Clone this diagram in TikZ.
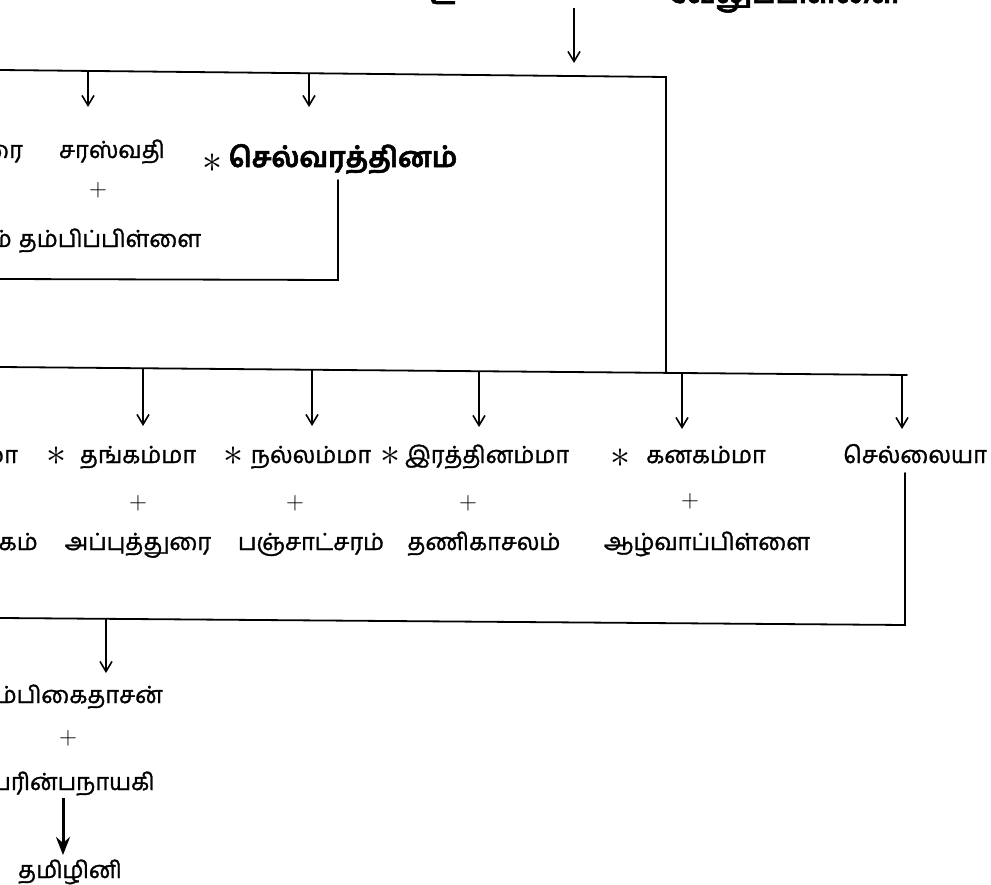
\documentclass[tikz,border=0pt]{standalone}
\usepackage{fontspec}
\usepackage{graphicx}
\newfontfamily\tamil[Script=Tamil,FakeBold=1.3]{Hind Madurai}
\newfontfamily\tamilbold[Script=Tamil,BoldFeatures={FakeBold=2}]{Hind Madurai}
\newcommand\bigast{\scalebox{4}{$\ast$}}
\usetikzlibrary{arrows.meta}
\begin{document}
\begin{tikzpicture}[x=1pt,y=-1pt,
  nm/.style={font=\tamil\fontsize{23.5}{24}\selectfont, inner sep=0pt, anchor=base},
  bnm/.style={font=\tamilbold\bfseries\fontsize{28}{28}\selectfont, inner sep=0pt, anchor=base},
  plus/.style={font=\fontsize{24}{24}\selectfont, inner sep=0pt, anchor=center},
  ast/.style={inner sep=0pt, anchor=center},
  ln/.style={line width=1.8pt, line cap=round},
  arr/.style={line width=1.6pt, -{Straight Barb[length=10pt,width=12pt,line width=1.6pt]}},
  bigarr/.style={line width=3pt, -{Stealth[length=18pt,width=14pt,inset=6pt]}}]
\useasboundingbox (0,0) rectangle (991,885);
\fill[white] (0,0) rectangle (991,885);
\clip (0,0) rectangle (991,885);

% cut-off heading fragments
\node[bnm] (hd1) at (443,4) {உ};
\node[bnm, anchor=base west] (hd2) at (668,3) {வேலுப்பிள்ளை};

% row 1
\node[nm, anchor=base east] (p1) at (23,158) {ரை};
\node[nm] (sara) at (112,158) {சரஸ்வதி};
\node[ast] (s0) at (212,163) {\bigast};
\node[bnm] (selva) at (343,167) {செல்வரத்தினம்};
\node[plus] (pl1) at (98,190) {$+$};
\node[nm, anchor=base east] (p2) at (12,247) {ம்};
\node[nm] (thambi) at (110,247) {தம்பிப்பிள்ளை};

% row 3
\node[nm, anchor=base east] (p3) at (18,463) {மா};
\node[ast] (s1) at (56,456) {\bigast};
\node[nm] (thanga) at (138,463) {தங்கம்மா};
\node[ast] (s2) at (233,456) {\bigast};
\node[nm] (nalla) at (311,463) {நல்லம்மா};
\node[ast] (s3) at (390,456) {\bigast};
\node[nm] (iratna) at (487,463) {இரத்தினம்மா};
\node[ast] (s4) at (620,458) {\bigast};
\node[nm] (kanaka) at (706,463) {கனகம்மா};
\node[nm] (sella) at (915,463) {செல்லையா};
\node[plus] (pl3a) at (138,503) {$+$};
\node[plus] (pl3b) at (295,503) {$+$};
\node[plus] (pl3c) at (468,503) {$+$};
\node[plus] (pl3d) at (690,501) {$+$};

% row 4
\node[nm, anchor=base east] (p4) at (38,550) {கம்};
\node[nm] (appu) at (138,550) {அப்புத்துரை};
\node[nm] (panja) at (311,550) {பஞ்சாட்சரம்};
\node[nm] (thani) at (484,550) {தணிகாசலம்};
\node[nm] (aazh) at (707,550) {ஆழ்வாப்பிள்ளை};

% bottom
\node[nm, anchor=base east] (ambi) at (163,703) {அம்பிகைதாசன்};
\node[plus] (pl5) at (68,738) {$+$};
\node[nm, anchor=base east] (peri) at (155,790) {பேரின்பநாயகி};
\node[nm] (thami) at (70,878) {தமிழினி};

% coordinates
\coordinate (h0) at (574,8);
\coordinate (h1) at (574,63);
\coordinate (bL) at (0,70);
\coordinate (bR) at (666,77);
\coordinate (a1) at (88,70.9);  \coordinate (t1) at (88,107);
\coordinate (a2) at (309,73.2); \coordinate (t2) at (309,107);
\coordinate (sv0) at (338,180);
\coordinate (sv1) at (338,280);
\coordinate (sv2) at (0,279);
\coordinate (cL) at (0,367);
\coordinate (cR) at (907,375);
\coordinate (cM) at (666,372.9);
\coordinate (b1) at (143,368.3); \coordinate (u1) at (143,426);
\coordinate (b2) at (312,369.8); \coordinate (u2) at (312,426);
\coordinate (b3) at (479,371.2); \coordinate (u3) at (479,427);
\coordinate (b4) at (682,373);   \coordinate (u4) at (682,429);
\coordinate (b5) at (902,375);   \coordinate (u5) at (902,429);
\coordinate (se0) at (905,473);
\coordinate (se1) at (905,625);
\coordinate (dL) at (0,618);
\coordinate (d1) at (106,618.8); \coordinate (e1) at (106,673);
\coordinate (f0) at (63,798);   \coordinate (f1) at (63,855);

% connectors
\draw[arr, line width=2pt] (h0) -- (h1);
\draw[ln] (bL) -- (bR) -- (cM);
\draw[arr] (a1) -- (t1);
\draw[arr] (a2) -- (t2);
\draw[ln] (sv0) -- (sv1) -- (sv2);
\draw[ln] (cL) -- (cR);
\draw[arr] (b1) -- (u1);
\draw[arr] (b2) -- (u2);
\draw[arr] (b3) -- (u3);
\draw[arr] (b4) -- (u4);
\draw[arr] (b5) -- (u5);
\draw[ln] (se0) -- (se1) -- (dL);
\draw[arr] (d1) -- (e1);
\draw[bigarr] (f0) -- (f1);
\end{tikzpicture}
\end{document}
